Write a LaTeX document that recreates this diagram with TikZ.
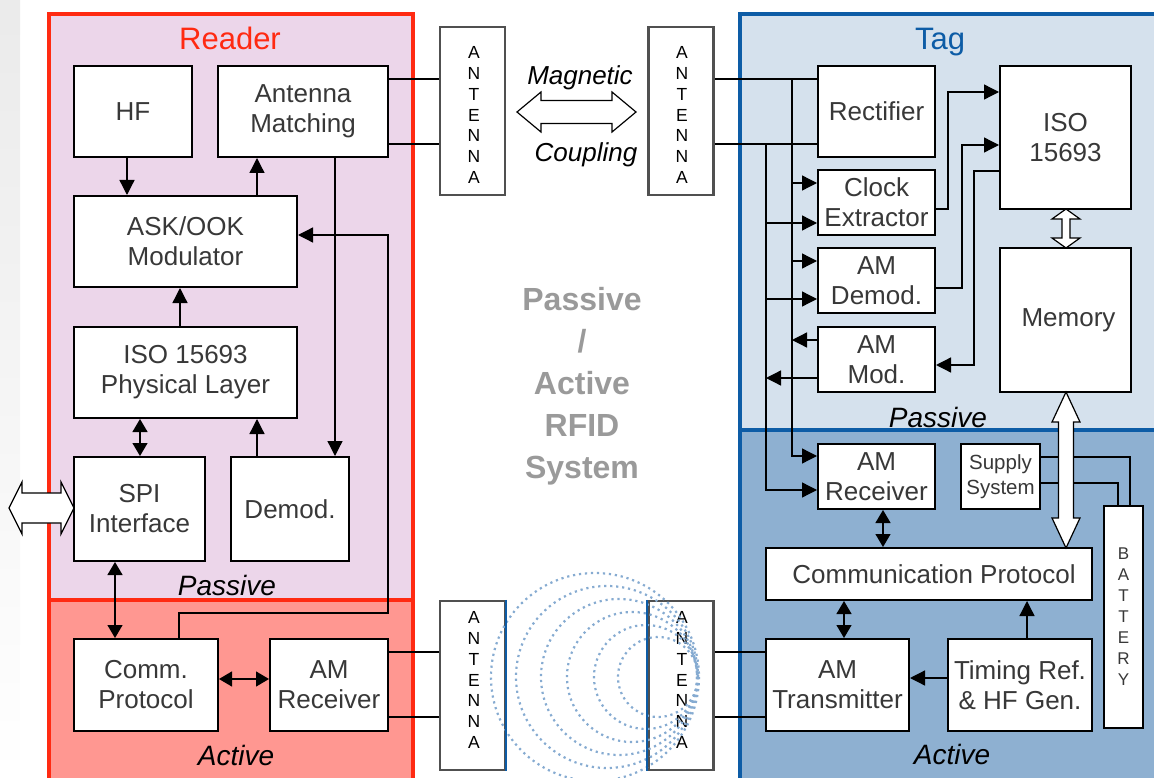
\documentclass[tikz,border=0pt]{standalone}
\usepackage{fontspec}
\setmainfont{Liberation Sans}
\usetikzlibrary{arrows.meta,calc}
\definecolor{txt}{HTML}{383838}
\definecolor{rdred}{HTML}{FF2A12}
\definecolor{rdpas}{HTML}{ECD6EA}
\definecolor{rdact}{HTML}{FF9791}
\definecolor{tgblue}{HTML}{0D5CA6}
\definecolor{tgpas}{HTML}{D5E1ED}
\definecolor{tgact}{HTML}{8EB0D1}
\definecolor{antgray}{HTML}{505050}
\definecolor{wave}{HTML}{86ABD1}
\definecolor{midgray}{HTML}{9A9A9A}
\newcommand{\hollowH}[6]{%
\draw[hollow] (#1,#3) -- ({#1+#6},{#3-#5}) -- ({#1+#6},{#3-#4}) -- ({#2-#6},{#3-#4}) -- ({#2-#6},{#3-#5}) -- (#2,#3) -- ({#2-#6},{#3+#5}) -- ({#2-#6},{#3+#4}) -- ({#1+#6},{#3+#4}) -- ({#1+#6},{#3+#5}) -- cycle;}
\newcommand{\hollowV}[6]{%
\draw[hollow] (#3,#1) -- ({#3-#5},{#1+#6}) -- ({#3-#4},{#1+#6}) -- ({#3-#4},{#2-#6}) -- ({#3-#5},{#2-#6}) -- (#3,#2) -- ({#3+#5},{#2-#6}) -- ({#3+#4},{#2-#6}) -- ({#3+#4},{#1+#6}) -- ({#3+#5},{#1+#6}) -- cycle;}
\tikzset{
 blk/.style={draw=black, line width=2pt, fill=white, text=txt, align=center, inner sep=0pt, font=\fontsize{26}{30}\selectfont},
 ant/.style={draw=antgray, line width=2.5pt, fill=white, inner sep=0pt, minimum width=65pt, minimum height=168pt},
 anttxt/.style={align=center, inner sep=0pt, text=black, font=\fontsize{17.5}{20.7}\selectfont},
 wire/.style={line width=1.3pt, black},
 arr/.style={wire, -{Triangle[length=15pt,width=15pt]}},
 darr/.style={wire, {Triangle[length=13pt,width=15pt]}-{Triangle[length=13pt,width=15pt]}},
 hollow/.style={draw=black, line width=1.2pt, fill=white, line join=miter},
 lbl/.style={font=\fontsize{28}{34}\selectfont\itshape, text=black, anchor=base, inner sep=0pt},
 ttl/.style={font=\fontsize{31}{36}\selectfont, anchor=base, inner sep=0pt},
 wavec/.style={draw=wave, line width=2.2pt, dash pattern=on 2.2pt off 3.8pt},
}
\begin{document}
\begin{tikzpicture}[x=1pt,y=-1pt]
\useasboundingbox (0,0) rectangle (1154,778);
\clip (0,0) rectangle (1154,778);
\shade[top color=gray!16, bottom color=white] (0,0) rectangle (20,778);
% regions
\fill[rdpas] (49,14) rectangle (413,600);
\fill[rdact] (49,600) rectangle (413,790);
\draw[rdred, line width=4pt] (49,790) -- (49,14) -- (413,14) -- (413,790);
\draw[rdred, line width=4pt] (49,600) -- (413,600);
\fill[tgpas] (740,14) rectangle (1160,430);
\fill[tgact] (740,430) rectangle (1160,790);
\draw[tgblue, line width=4pt] (740,790) -- (740,14) -- (1160,14);
\draw[tgblue, line width=4pt] (740,430) -- (1160,430);
% titles and labels
\node[ttl, text=rdred] (tR) at (230,50) {Reader};
\node[ttl, text=tgblue] (tT) at (940,50) {Tag};
\node[lbl] (lRP) at (227,595) {Passive};
\node[lbl] (lRA) at (236,765) {Active};
\node[lbl] (lTP) at (938,427) {Passive};
\node[lbl] (lTA) at (952,764) {Active};
\node[align=center, text=midgray, inner sep=0pt, font=\fontsize{32}{42}\selectfont\bfseries] (mid) at (582,386) {Passive\\/\\Active\\RFID\\System};
\node[font=\fontsize{26}{30}\selectfont\itshape, anchor=base, inner sep=0pt] (mag) at (580,85) {Magnetic};
\node[font=\fontsize{26}{30}\selectfont\itshape, anchor=base, inner sep=0pt] (cpl) at (586,162) {Coupling};
% reader blocks
\node[blk, minimum width=118pt, minimum height=91pt] (HF) at (133,111.5) {HF};
\node[blk, minimum width=170pt, minimum height=91pt] (AntM) at (303,111.5) {\raisebox{-3pt}{Antenna}\\\raisebox{-3pt}{Matching}};
\node[blk, minimum width=223pt, minimum height=91pt] (ASK) at (185.5,241.5) {ASK/OOK\\Modulator};
\node[blk, minimum width=223pt, minimum height=91pt] (Phys) at (185.5,372.5) {\raisebox{-3pt}{ISO 15693}\\\raisebox{-3pt}{Physical Layer}};
\node[blk, minimum width=131pt, minimum height=104pt] (SPI) at (139.5,509) {SPI\\Interface};
\node[blk, minimum width=118pt, minimum height=104pt] (Demod) at (290,509) {Demod.};
\node[blk, minimum width=144pt, minimum height=92pt] (Comm) at (146,685) {Comm.\\Protocol};
\node[blk, minimum width=118pt, minimum height=92pt] (AMRx) at (329,685) {AM\\Receiver};
% antennas
\node[ant] (A1) at (472.5,111) {};
\node[ant] (A2) at (681,111) {};
\node[ant, minimum height=169pt] (A3) at (472.5,685.5) {};
\node[ant, minimum height=169pt] (A4) at (681,685.5) {};
\node[anttxt] (A1t) at (474,115) {A\\N\\T\\E\\N\\N\\A};
\node[anttxt] (A2t) at (682,115) {A\\N\\T\\E\\N\\N\\A};
\node[anttxt] (A3t) at (474,680) {A\\N\\T\\E\\N\\N\\A};
\node[anttxt] (A4t) at (682,680) {A\\N\\T\\E\\N\\N\\A};
% tag blocks
\node[blk, minimum width=117pt, minimum height=91pt] (Rect) at (876.5,111.5) {Rectifier};
\node[blk, minimum width=131pt, minimum height=143pt] (ISO) at (1065.5,137.5) {ISO\\15693};
\node[blk, minimum width=117pt, minimum height=65pt] (Clock) at (876.5,202.5) {Clock\\Extractor};
\node[blk, minimum width=117pt, minimum height=65pt] (AMDem) at (876.5,280.5) {AM\\Demod.};
\node[blk, minimum width=117pt, minimum height=65pt] (AMMod) at (876.5,359.5) {AM\\Mod.};
\node[blk, minimum width=131pt, minimum height=144pt] (Mem) at (1065.5,320) {\hspace*{6pt}Memory};
\node[blk, minimum width=117pt, minimum height=65pt] (AMRxT) at (876.5,476.5) {AM\\Receiver};
\node[blk, minimum width=79pt, minimum height=65pt, font=\fontsize{20.5}{24.5}\selectfont] (Sup) at (1000.5,476.5) {Supply\\System};
\node[blk, minimum width=326pt, minimum height=52pt] (CommP) at (929,574) {\hspace*{10pt}Communication Protocol};
\node[blk, minimum width=143pt, minimum height=92pt] (AMTx) at (837.5,685) {AM\\Transmitter};
\node[blk, minimum width=144pt, minimum height=92pt] (Tim) at (1020,685) {Timing Ref.\\\& HF Gen.};
\node[blk, minimum width=39pt, minimum height=222pt, font=\fontsize{17}{21}\selectfont] (Bat) at (1123.5,617) {B\\A\\T\\T\\E\\R\\Y};
% reader connectors
\draw[arr] (127,0 |- HF.south) -- (127,0 |- ASK.north);
\draw[arr] (257,0 |- ASK.north) -- (257,0 |- AntM.south);
\draw[arr] (180,0 |- Phys.north) -- (180,0 |- ASK.south);
\draw[darr] (140,0 |- Phys.south) -- (140,0 |- SPI.north);
\draw[arr] (257,0 |- Demod.north) -- (257,0 |- Phys.south);
\draw[arr] (335,0 |- AntM.south) -- (335,0 |- Demod.north);
\draw[darr] (115,0 |- SPI.south) -- (115,0 |- Comm.north);
\draw[arr] (179,0 |- Comm.north) -- (179,613) -- (388,613) -- (388,235) -- (ASK.east |- 0,235);
\draw[darr] (Comm.east |- 0,679) -- (AMRx.west |- 0,679);
\draw[wire] (AntM.east |- 0,79) -- (A1.west |- 0,79);
\draw[wire] (AntM.east |- 0,144) -- (A1.west |- 0,144);
\draw[wire] (AMRx.east |- 0,652) -- (A3.west |- 0,652);
\draw[wire] (AMRx.east |- 0,717) -- (A3.west |- 0,717);
% tag connectors
\draw[wire] (A2.east |- 0,79) -- (Rect.west |- 0,79);
\draw[wire] (A2.east |- 0,144) -- (Rect.west |- 0,144);
\draw[wire] (A4.east |- 0,652) -- (AMTx.west |- 0,652);
\draw[wire] (A4.east |- 0,717) -- (AMTx.west |- 0,717);
\draw[arr] (792,79) -- (792,456) -- (AMRxT.west |- 0,456);
\draw[arr] (766,144) -- (766,490) -- (AMRxT.west |- 0,490);
\draw[arr] (792,183) -- (Clock.west |- 0,183);
\draw[arr] (766,223) -- (Clock.west |- 0,223);
\draw[arr] (792,261) -- (AMDem.west |- 0,261);
\draw[arr] (766,299) -- (AMDem.west |- 0,299);
\draw[arr] (AMMod.west |- 0,340) -- (792,340);
\draw[arr] (AMMod.west |- 0,378) -- (766,378);
\draw[arr] (Clock.east |- 0,209) -- (948,209) -- (948,92) -- (ISO.west |- 0,92);
\draw[arr] (AMDem.east |- 0,288) -- (962,288) -- (962,145) -- (ISO.west |- 0,145);
\draw[arr] (ISO.west |- 0,171) -- (974,171) -- (974,365) -- (AMMod.east |- 0,365);
\draw[darr] (883,0 |- AMRxT.south) -- (883,0 |- CommP.north);
\draw[darr] (844,0 |- CommP.south) -- (844,0 |- AMTx.north);
\draw[arr] (1027,0 |- Tim.north) -- (1027,0 |- CommP.south);
\draw[arr] (Tim.west |- 0,678) -- (AMTx.east |- 0,678);
\draw[wire] (Sup.east |- 0,457) -- (1130,457) -- (1130,0 |- Bat.north);
\draw[wire] (Sup.east |- 0,483) -- (1118,483) -- (1118,0 |- Bat.north);
% hollow arrows
\hollowH{9}{74}{508}{15}{26}{13}
\hollowH{517}{636}{112}{11.5}{20}{24}
\hollowV{209}{248}{1066}{4}{14}{10}
\hollowV{392}{548}{1066}{7.5}{14}{30}
% waves
\draw[wavec] (658,677) circle (40);
\draw[wavec] (646,677) circle (52);
\draw[wavec] (632,677) circle (65);
\draw[wavec] (619,677) circle (78);
\draw[wavec] (607,677) circle (91);
\draw[wavec] (595,677) circle (104);
\draw[tgblue, line width=2.2pt] (A3.north east) -- (A3.south east);
\draw[tgblue, line width=2.2pt] (A4.north west) -- (A4.south west);
\end{tikzpicture}
\end{document}
